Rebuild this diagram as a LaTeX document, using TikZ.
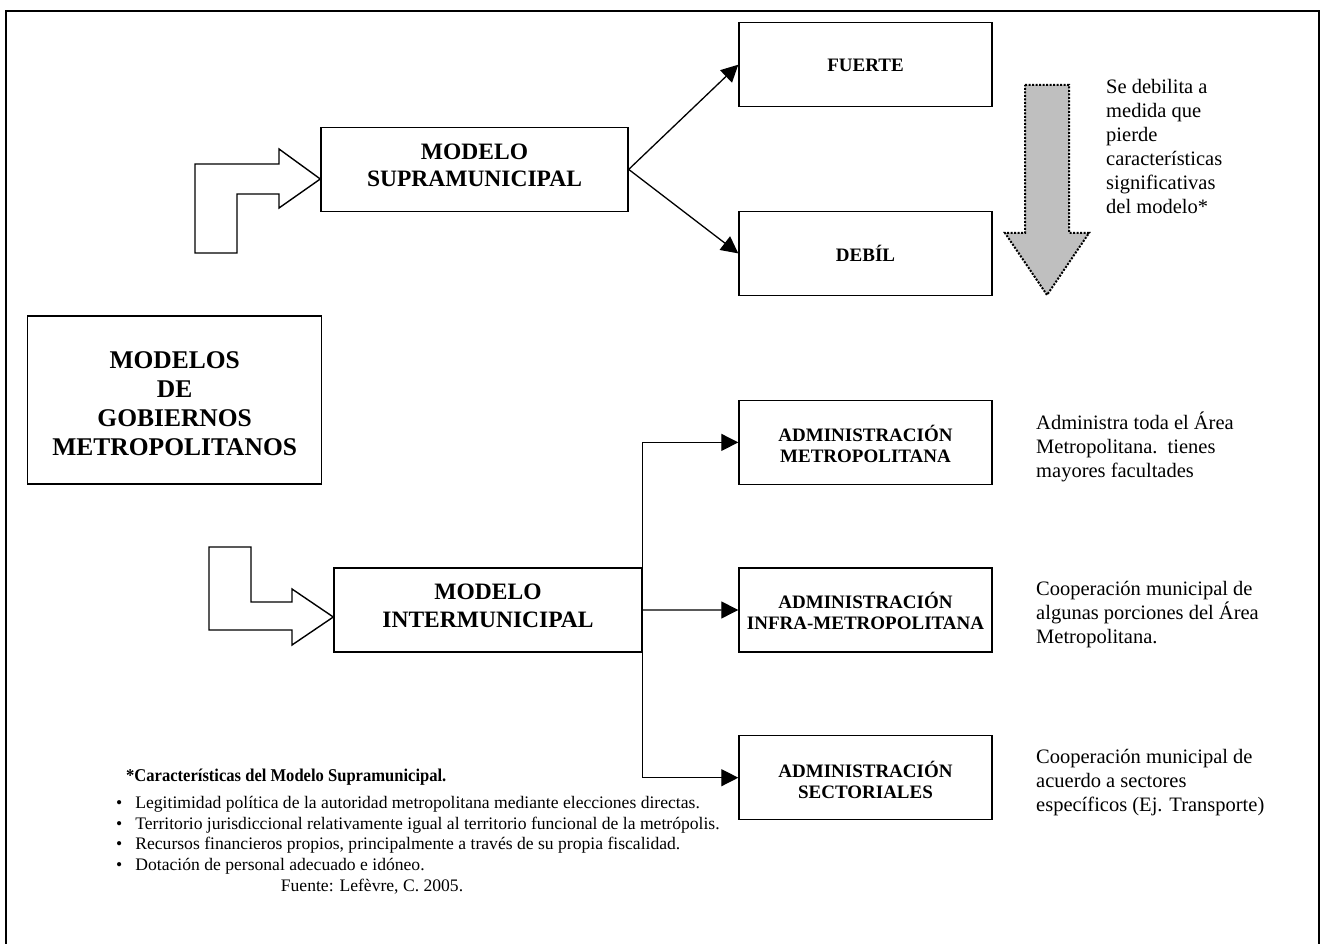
\documentclass[tikz,border=0pt]{standalone}
\usepackage{fontspec}
\setmainfont{Liberation Serif}
\usetikzlibrary{arrows.meta}
\begin{document}
\begin{tikzpicture}[x=1pt,y=-1pt,
  box/.style={draw, line width=1.4pt, inner sep=0pt},
  bigbox/.style={box, minimum width=307pt, minimum height=84pt},
  smallbox/.style={box, minimum width=253pt, minimum height=84pt},
  bigtext/.style={inner sep=0pt, align=center, font=\fontsize{23.5}{27.8}\selectfont\bfseries},
  smalltext/.style={inner sep=0pt, align=center, font=\fontsize{19}{21.2}\selectfont\bfseries},
  arr/.style={line width=1.3pt, -{Triangle[length=17pt,width=17pt]}},
  note/.style={anchor=north west, inner sep=0pt, align=left,
    font=\fontsize{20.5}{24}\selectfont},
  foot/.style={inner sep=0pt, font=\fontsize{17.6}{20.6}\selectfont},
  bent/.style={draw, line width=1.4pt, line join=miter, fill=white}]
\useasboundingbox (0,0) rectangle (1325,944);

% outer frame
\draw[line width=2pt] (6,950) -- (6,11) -- (1319,11) -- (1319,950);

% boxes
\node[bigbox] (supra) at (474.5,169.4) {};
\node[bigtext] (supra-t) at (474.5,165.3) {MODELO\\SUPRAMUNICIPAL};
\node[smallbox] (fuerte) at (865.5,64.7) {};
\node[smalltext] (fuerte-t) at (865.5,65) {FUERTE};
\node[smallbox] (debil) at (865.5,253.4) {};
\node[smalltext] (debil-t) at (865.5,253) {DEBÍL};
\node[box, minimum width=294pt, minimum height=168pt] (modelos) at (174.7,399.9) {};
\node[inner sep=0pt, align=center, font=\fontsize{25.5}{29.1}\selectfont\bfseries]
  (modelos-t) at (174.7,403.4) {MODELOS\\DE\\GOBIERNOS\\METROPOLITANOS};
\node[bigbox, minimum width=308pt] (inter) at (488,609.9) {};
\node[bigtext] (inter-t) at (488,605.8) {MODELO\\INTERMUNICIPAL};
\node[smallbox] (admmet) at (865.5,442.4) {};
\node[smalltext] (admmet-t) at (865.5,443.9) {ADMINISTRACIÓN\\METROPOLITANA};
\node[smallbox] (adminfra) at (865.5,610) {};
\node[smalltext] (adminfra-t) at (865.5,610.6) {ADMINISTRACIÓN\\INFRA-METROPOLITANA};
\node[smallbox] (admsect) at (865.5,777.7) {};
\node[smalltext] (admsect-t) at (865.5,779.8) {ADMINISTRACIÓN\\SECTORIALES};

% connectors
\draw[arr] (supra.east) -- (fuerte.west);
\draw[arr] (supra.east) -- (debil.west);
\draw[arr] (inter.north east) |- (admmet.west);
\draw[arr] (inter.east) -- (adminfra.west);
\draw[arr] (inter.south east) |- (admsect.west);

% bent block arrows feeding the two models
\draw[bent] (195,253) -- (195,164) -- (279,164) -- (279,149) -- (supra.west |- 0,179)
  -- (279,208) -- (279,194) -- (237,194) -- (237,253) -- cycle;
\draw[bent] (209,547) -- (209,630) -- (292,630) -- (292,645) -- (inter.west |- 0,617)
  -- (292,589) -- (292,602) -- (251,602) -- (251,547) -- cycle;

% grey weakening arrow
\draw[fill=black!25, line width=2pt, dash pattern=on 2pt off 1.5pt]
  (1025,85) -- (1069,85) -- (1069,233) -- (1089,233) -- (1047,295)
  -- (1005,233) -- (1025,233) -- cycle;

% side notes
\node[note] (nsup) at (1106,79) {Se debilita a\\medida que\\pierde\\características\\significativas\\del modelo*};
\node[note] (nmet) at (1036,412) {Administra toda el Área\\Metropolitana.\ \ tienes\\mayores facultades};
\node[note] (ninf) at (1036,581) {Cooperación municipal de\\algunas porciones del Área\\Metropolitana.};
\node[note] (nsec) at (1036,749) {Cooperación municipal de\\acuerdo a sectores\\específicos (Ej. Transporte)};

% footnote
\node[foot, anchor=base west, font=\fontsize{18}{20}\selectfont\bfseries] (fhead)
  at (126,781) {\scalebox{0.92}[1]{*Características del Modelo Supramunicipal.}};
\node[foot, anchor=north west] (flist) at (116,794)
  {\begin{tabular}{@{}l@{\hspace{13pt}}l@{}}
   \textbullet & Legitimidad política de la autoridad metropolitana mediante elecciones directas.\\
   \textbullet & Territorio jurisdiccional relativamente igual al territorio funcional de la metrópolis.\\
   \textbullet & Recursos financieros propios, principalmente a través de su propia fiscalidad.\\
   \textbullet & Dotación de personal adecuado e idóneo.
  \end{tabular}};
\node[foot, anchor=base] (fuente) at (372,891) {Fuente: Lefèvre, C. 2005.};
\end{tikzpicture}
\end{document}
